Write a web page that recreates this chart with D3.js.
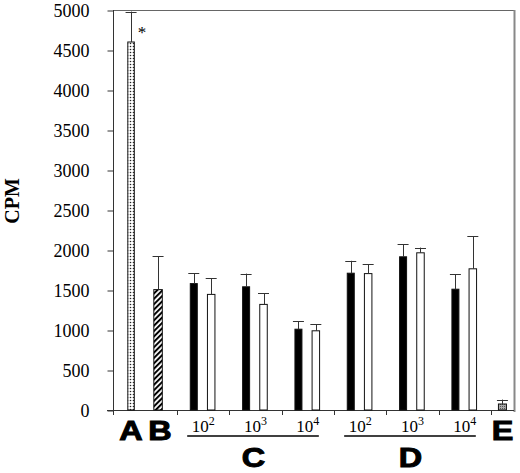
<!DOCTYPE html>
<html lang="en">
<head>
<meta charset="utf-8">
<script src="https://d3js.org/d3.v7.min.js"></script>
<style>
    body { margin: 0; background: #fff; }
    .big { font-family: "Liberation Sans", Arial, sans-serif; font-weight: bold; font-size: 27px; fill: #000; stroke: #000; stroke-width: 1; }
    .dose { font-family: "Liberation Serif", serif; font-size: 17px; fill: #000; }
</style>
</head>
<body>
<svg id="chart" width="520" height="473"></svg>
<script>
    // groups along the x axis
    var groups = ["AB", "C2", "C3", "C4", "D2", "D3", "D4", "E"];
    var yTicks = [0, 500, 1000, 1500, 2000, 2500, 3000, 3500, 4000, 4500, 5000];

    // single bars: A (dotted), B (striped), E (grey)
    var singleNames = ["A", "B", "E"];
    var singleGroups = ["AB", "AB", "E"];
    var singleMeans = [4600, 1505, 75];
    var singleTops = [4980, 1920, 130];   // top of error bar

    // paired bars in C and D (black / white), doses 10^2, 10^3, 10^4
    var exponents = [2, 3, 4];
    var cBlack = [1580, 1540, 1010];
    var cBlackTop = [1710, 1705, 1112];
    var cWhite = [1445, 1320, 990];
    var cWhiteTop = [1645, 1460, 1075];
    var dBlack = [1710, 1915, 1510];
    var dBlackTop = [1865, 2075, 1700];
    var dWhite = [1705, 1965, 1765];
    var dWhiteTop = [1820, 2030, 2175];

    var svg = d3.select("#chart"),
        plotLeft = 113, plotRight = 514, plotTop = 10, plotBottom = 410;

    var x = d3.scaleBand().domain(groups).range([124.7, 543.3]);
    var y = d3.scaleLinear().domain([0, 5000]).range([plotBottom, plotTop]);

    // offsets of bars inside their group band
    var offset = { A: -19.8, B: 7.2, E: -14.7, black: -9.4, white: 8 };
    var widths = { A: 6.5, B: 8.5, E: 8, black: 7, white: 7.5 };
    var fills = { A: "url(#dots)", B: "url(#stripes)", E: "url(#grey)", black: "#000", white: "#fff" };

    var bars = [];
    singleNames.forEach(function(n, i) {
        bars.push({ group: singleGroups[i], kind: n, value: singleMeans[i], top: singleTops[i] });
    });
    exponents.forEach(function(e, i) {
        bars.push({ group: "C" + e, kind: "black", value: cBlack[i], top: cBlackTop[i] });
        bars.push({ group: "C" + e, kind: "white", value: cWhite[i], top: cWhiteTop[i] });
        bars.push({ group: "D" + e, kind: "black", value: dBlack[i], top: dBlackTop[i] });
        bars.push({ group: "D" + e, kind: "white", value: dWhite[i], top: dWhiteTop[i] });
    });

    function cx(d) {
        return x(d.group) + x.bandwidth() / 2 + offset[d.kind];
    }
    function gx(g) {
        return x(g) + x.bandwidth() / 2;
    }

    var defs = svg.append("defs");
    var dots = defs.append("pattern").attr("id", "dots")
        .attr("patternUnits", "userSpaceOnUse").attr("width", 3).attr("height", 3);
    dots.append("rect").attr("width", 3).attr("height", 3).attr("fill", "#fff");
    dots.append("circle").attr("cx", 1.5).attr("cy", 1.5).attr("r", 0.8).attr("fill", "#222");

    var stripes = defs.append("pattern").attr("id", "stripes")
        .attr("patternUnits", "userSpaceOnUse").attr("width", 3.8).attr("height", 3.8)
        .attr("patternTransform", "rotate(45)");
    stripes.append("rect").attr("width", 3.8).attr("height", 3.8).attr("fill", "#fff");
    stripes.append("rect").attr("width", 2).attr("height", 3.8).attr("fill", "#000");

    var grey = defs.append("pattern").attr("id", "grey")
        .attr("patternUnits", "userSpaceOnUse").attr("width", 2).attr("height", 2);
    grey.append("rect").attr("width", 2).attr("height", 2).attr("fill", "#aaa");
    grey.append("rect").attr("width", 1).attr("height", 1).attr("fill", "#555");

    // frame: top and right edges
    svg.append("line").attr("x1", plotLeft).attr("x2", plotRight).attr("y1", plotTop + 0.5).attr("y2", plotTop + 0.5)
        .attr("stroke", "#666").attr("stroke-width", 1);
    svg.append("line").attr("x1", plotRight + 0.5).attr("x2", plotRight + 0.5).attr("y1", plotTop).attr("y2", plotBottom + 2)
        .attr("stroke", "#888").attr("stroke-width", 2);

    // y axis
    var yAxis = svg.append("g")
        .attr("transform", "translate(" + (plotLeft + 0.5) + ",0.5)")
        .call(d3.axisLeft(y).tickValues(yTicks).tickFormat(d3.format("d"))
            .tickSize(6).tickSizeOuter(0).tickPadding(18))
        .attr("font-family", "Liberation Serif, serif")
        .attr("font-size", 18);
    yAxis.select(".domain").attr("stroke", "#333")
        .attr("d", "M0," + (plotTop - 0.5) + "V" + (plotBottom - 0.5));
    yAxis.selectAll(".tick line").attr("stroke", "#333");
    yAxis.selectAll(".tick text").attr("fill", "#000");

    // x axis line and group ticks
    svg.append("line").attr("x1", plotLeft - 6).attr("x2", plotRight).attr("y1", plotBottom + 0.5).attr("y2", plotBottom + 0.5)
        .attr("stroke", "#333");
    var tickXs = [plotLeft].concat(groups.slice(1).map(g => x(g)));
    svg.append("g").selectAll("line")
        .data(tickXs)
        .join("line")
        .attr("x1", d => Math.round(d) + 0.5)
        .attr("x2", d => Math.round(d) + 0.5)
        .attr("y1", plotBottom)
        .attr("y2", plotBottom + 5)
        .attr("stroke", "#333");

    // bars
    svg.append("g").selectAll("rect")
        .data(bars)
        .join("rect")
        .attr("x", d => cx(d) - widths[d.kind] / 2)
        .attr("y", d => y(d.value))
        .attr("width", d => widths[d.kind])
        .attr("height", d => y(0) - y(d.value))
        .attr("fill", d => fills[d.kind])
        .attr("stroke", "#111")
        .attr("stroke-width", 1);

    // error bars (upper whisker only)
    var err = svg.append("g").attr("stroke", "#333").attr("stroke-width", 1);
    err.selectAll(".stem")
        .data(bars)
        .join("line")
        .attr("class", "stem")
        .attr("x1", d => Math.round(cx(d)) + 0.5)
        .attr("x2", d => Math.round(cx(d)) + 0.5)
        .attr("y1", d => y(d.value))
        .attr("y2", d => y(d.top));
    err.selectAll(".cap")
        .data(bars)
        .join("line")
        .attr("class", "cap")
        .attr("x1", d => cx(d) - 5.5)
        .attr("x2", d => cx(d) + 5.5)
        .attr("y1", d => Math.round(y(d.top)) + 0.5)
        .attr("y2", d => Math.round(y(d.top)) + 0.5);

    // asterisk next to A
    var barA = bars[0];
    svg.append("text")
        .attr("x", cx(barA) + 11)
        .attr("y", y(barA.top) + 26)
        .attr("text-anchor", "middle")
        .style("font-family", "Liberation Serif, serif")
        .style("font-size", "17px")
        .text("*");

    // y axis title
    svg.append("text")
        .attr("transform", "translate(19,201) rotate(-90)")
        .attr("text-anchor", "middle")
        .style("font-family", "Liberation Serif, serif")
        .style("font-weight", "bold")
        .style("font-size", "20px")
        .text("CPM");

    // big letters
    function bigLetter(label, px, py) {
        svg.append("text")
            .attr("class", "big")
            .attr("text-anchor", "middle")
            .attr("transform", "translate(" + px + "," + py + ") scale(1.2,1)")
            .text(label);
    }
    bars.slice(0, 3).forEach(function(d) {
        bigLetter(d.kind, cx(d) + (d.kind === "B" ? 2 : 0), 440);
    });

    // dose labels, underlines and group letters for C and D
    ["C", "D"].forEach(function(letter) {
        exponents.forEach(function(e) {
            var t = svg.append("text")
                .attr("class", "dose")
                .attr("x", gx(letter + e))
                .attr("y", 432)
                .attr("text-anchor", "middle");
            t.append("tspan").text("10");
            t.append("tspan").attr("dy", -7).style("font-size", "12px").text(e);
        });
        var first = gx(letter + exponents[0]),
            last = gx(letter + exponents[exponents.length - 1]);
        svg.append("line")
            .attr("x1", first - 16).attr("x2", last + 11)
            .attr("y1", 436).attr("y2", 436)
            .attr("stroke", "#000").attr("stroke-width", 1.5);
        bigLetter(letter, (first + last) / 2 - 2, 467);
    });
</script>
</body>
</html>
